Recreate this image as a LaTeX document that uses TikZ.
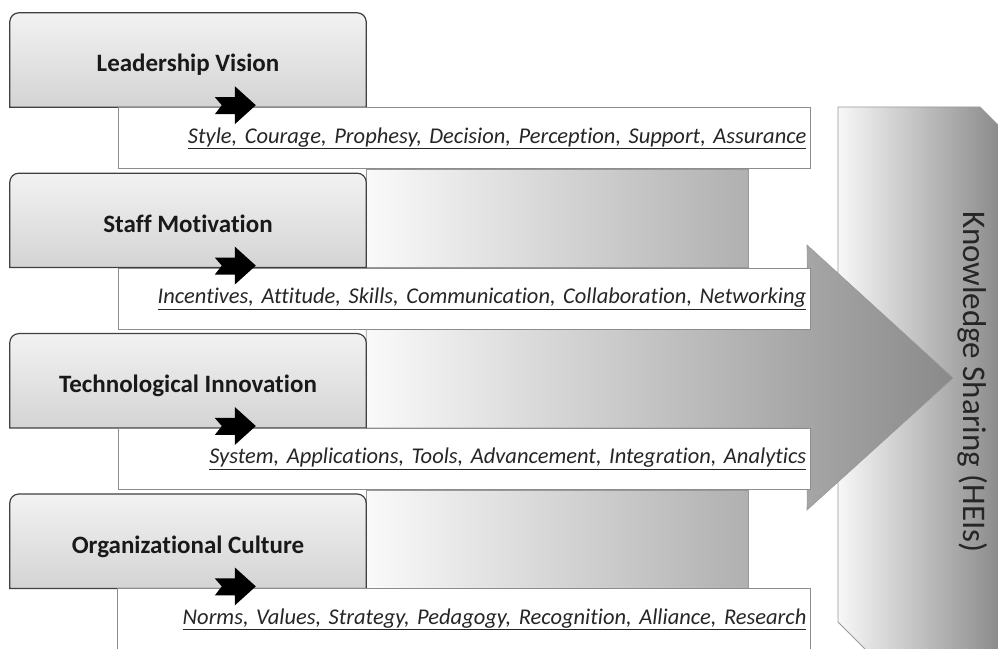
\documentclass[tikz,border=0pt]{standalone}
\usepackage{fontspec}
\setmainfont{Carlito}[Ligatures = NoCommon]
\frenchspacing
\usetikzlibrary{positioning,calc,backgrounds}

\begin{document}
\begin{tikzpicture}[
    x = 1pt, y = 1pt, % one unit is one pixel of the figure
    titlebox/.style = {minimum width = 356pt, minimum height = 94pt, inner sep = 0pt,
        text height = 26pt, text depth = 2pt,
        font = \fontsize{25}{30}\selectfont\bfseries, text = black!90},
    titleframe/.style = {draw = black!75, line width = 1.2pt,
        top color = black!5, bottom color = black!17},
    listbox/.style = {draw = black!45, line width = 1pt, fill = white,
        minimum width = 692pt, minimum height = 61pt, text width = 684pt,
        align = right, inner sep = 4pt, anchor = north west,
        font = \fontsize{22.5}{26}\selectfont\itshape, text = black!85},
    sidefill/.style = {draw = black!40, line width = 0.8pt,
        left color = black!2, right color = black!31},
    notcharrow/.style = {fill = black}
    ]

    \useasboundingbox (0,0) rectangle (998,648);

    % the four factors
    \node[titlebox] (t1) at (188,588) {Leadership Vision};
    \node[titlebox] (t2) [below = 66pt of t1] {Staff Motivation};
    \node[titlebox] (t3) [below = 66pt of t2] {Technological Innovation};
    \node[titlebox] (t4) [below = 66pt of t3] {Organizational Culture};

    % what each factor covers
    \node[listbox] (l1) at ($(t1.south west)+(108,0)$)
        {\underline{Style, Courage, Prophesy, Decision, Perception, Support, Assurance}};
    \node[listbox] (l2) at ($(t2.south west)+(108,0)$)
        {\underline{Incentives, Attitude, Skills, Communication, Collaboration, Networking}};
    \node[listbox] (l3) at ($(t3.south west)+(108,0)$)
        {\underline{System, Applications, Tools, Advancement, Integration, Analytics}};
    \node[listbox, draw = none] (l4) at ($(t4.south west)+(108,0)$)
        {\underline{Norms, Values, Strategy, Pedagogy, Recognition, Alliance, Research}};
    \draw[black!45, line width = 1pt] (l4.south west) |- (l4.north east) -- (l4.south east);

    \node[rotate = -90, font = \fontsize{33}{38}\selectfont, text = black!85] (ks) at (973,266)
        {Knowledge Sharing (HEIs)};

    \begin{pgfonlayer}{background}
        % outcome block, cut by the page edge
        \begin{scope}
            \clip (0,0) rectangle (998,648);
            \draw[draw = black!40, line width = 0.8pt, left color = black!3, right color = black!51]
                (838,541) -- (980,541) -- (1020,501) -- (1020,-20) -- (884,-20) -- (838,26) -- cycle;
        \end{scope}
        % big arrow
        \draw[draw = black!40, line width = 0.6pt, left color = black!2, right color = black!46]
            (t3.north east |- l2.south) -- ($(l2.south east)+(-3,0)$) -- (807,403) -- (953,270)
            -- (807,138) -- ($(l3.north east)+(-3,0)$) -- (t3.south east) -- cycle;
        \draw[sidefill] ($(t2.south east)+(382,0)$) rectangle (t2.north east |- l1.south);
        \draw[sidefill] ($(t4.south east)+(382,0)$) rectangle (t4.north east |- l3.south);
        % frames of the factors, rounded on top only
        \foreach \t in {t1,t2,t3,t4}
            \draw[titleframe] (\t.south west) -- ([yshift=-9pt]\t.north west)
                arc[start angle = 180, end angle = 90, radius = 9pt]
                -- ([xshift=-9pt]\t.north east)
                arc[start angle = 90, end angle = 0, radius = 9pt]
                -- (\t.south east) -- cycle;
    \end{pgfonlayer}

    \foreach \t in {t1,t2,t3,t4}
        \fill[notcharrow] ($(\t.south west)+(246,2)$) -- ++(-21,19) -- ++(0,-11) -- ++(-20,0)
            -- ++(7,-8) -- ++(-7,-9) -- ++(20,0) -- ++(0,-10) -- cycle;
\end{tikzpicture}
\end{document}
